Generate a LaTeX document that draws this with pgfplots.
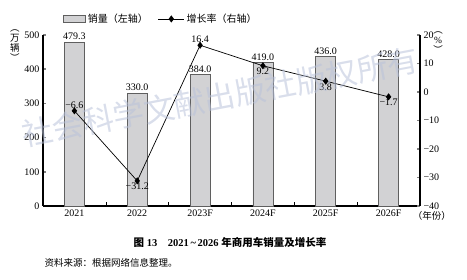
\documentclass[border=0pt]{standalone}
\usepackage{pgfplots}
\pgfplotsset{compat=1.18}
\usepackage{fontspec}
\setmainfont{Liberation Serif}
\newfontfamily\cjk{Noto Sans CJK SC}
\definecolor{barfill}{RGB}{210,210,212}
\definecolor{baredge}{RGB}{95,95,95}
\definecolor{wm}{RGB}{185,194,218}

\pgfplotsset{
  barleg/.style={legend image code/.code={\draw[##1] (0pt,-3.5pt) rectangle (22pt,3.5pt);}},
  lineleg/.style={legend image code/.code={\draw[##1, mark=none] (0pt,0pt) -- (26pt,0pt);
    \draw[##1] plot[only marks] coordinates {(13pt,0pt)};}},
}

\begin{document}
\begin{tikzpicture}
\useasboundingbox (-43pt,-74pt) rectangle (424pt,206pt);
\begin{axis}[
  at={(0pt,0pt)}, anchor=south west,
  scale only axis, width=377pt, height=171pt,
  xmin=-0.5, xmax=5.5, ymin=0, ymax=500,
  axis x line*=bottom, axis y line*=left,
  axis line style={line width=1.6pt, -},
  xtick={0,...,5}, xticklabels={2021,2022,2023F,2024F,2025F,2026F},
  minor xtick={0.5,1.5,2.5,3.5,4.5},
  major x tick style={draw=none},
  minor x tick style={draw=black, line width=0.6pt},
  minor tick length=4pt,
  ytick={0,100,...,500},
  y tick style={line width=1.5pt},
  tick align=inside, major tick length=3pt,
  tick label style={font=\fontsize{10}{12}\selectfont},
  /pgf/number format/assume math mode=true,
  clip=false,
  legend style={at={(0.045,1.04)}, anchor=south west, draw=none, fill=none,
    legend columns=2, font=\cjk\fontsize{10}{12}\selectfont,
    /tikz/every even column/.append style={column sep=8pt}},
]
\addplot[ybar, bar width=20pt, fill=barfill, draw=baredge, line width=0.8pt,
  point meta=explicit symbolic, nodes near coords,
  nodes near coords style={font=\fontsize{10}{12}\selectfont, inner sep=2pt, text=black},
  barleg]
  table[meta=lab] {
x y lab
0 479.3 479.3
1 330.0 330.0
2 384.0 384.0
3 419.0 419.0
4 436.0 436.0
5 428.0 428.0
};
\addlegendentry{销量（左轴）}
\addlegendimage{black, line width=0.7pt, mark=diamond*, mark size=3pt, lineleg}
\addlegendentry{增长率（右轴）}
\end{axis}
\begin{axis}[
  at={(0pt,0pt)}, anchor=south west,
  scale only axis, width=377pt, height=171pt,
  xmin=-0.5, xmax=5.5, ymin=-40, ymax=20,
  axis x line=none, axis y line*=right,
  axis line style={line width=1.6pt, -},
  ytick={-40,-30,...,20}, yticklabels={−40,−30,−20,−10,0,10,20},
  y tick style={line width=1.5pt},
  tick align=inside, major tick length=3pt,
  tick label style={font=\fontsize{10}{12}\selectfont},
  clip=false,
]
\addplot[black, line width=0.7pt, mark=diamond*, mark size=3pt]
  coordinates {(0,-6.6) (1,-31.2) (2,16.4) (3,9.2) (4,3.8) (5,-1.7)};
% labels above points
\addplot[draw=none, mark=none, point meta=explicit symbolic, nodes near coords,
  nodes near coords style={anchor=south, font=\fontsize{10}{12}\selectfont, inner sep=2pt}]
  table[meta=lab] {
x y lab
0 -6.6 −6.6
2 16.4 16.4
};
% labels below points
\addplot[draw=none, mark=none, point meta=explicit symbolic, nodes near coords,
  nodes near coords style={anchor=north, font=\fontsize{10}{12}\selectfont, inner sep=2pt}]
  table[meta=lab] {
x y lab
1 -31.2 −31.2
3 9.2 9.2
4 3.8 3.8
5 -1.7 −1.7
};
\end{axis}
\node[rotate=10.7, text=wm, opacity=0.55, font=\cjk\fontsize{31}{31}\selectfont] at (177pt,109pt) {社会科学文献出版社版权所有};
\node[font=\cjk\fontsize{9.5}{10}\selectfont, align=center] at (-28pt,160pt) {︵\\万\\辆\\︶};
\node[font=\cjk\fontsize{9.5}{10}\selectfont, align=center] at (395pt,163pt) {︵\\{\rmfamily\%}\\︶};
\node[font=\cjk\fontsize{9.5}{12}\selectfont] at (389pt,-10pt) {（年份）};
\node[font=\fontsize{10.5}{12}\selectfont] at (187pt,-36pt) {{\cjk\bfseries 图}~{\bfseries 13}\quad{\bfseries 2021\,\textasciitilde\,2026}~{\cjk\bfseries 年商用车销量及增长率}};
\node[anchor=west, font=\cjk\fontsize{9.5}{12}\selectfont] at (-2pt,-57pt) {资料来源：根据网络信息整理。};
\end{tikzpicture}
\end{document}
